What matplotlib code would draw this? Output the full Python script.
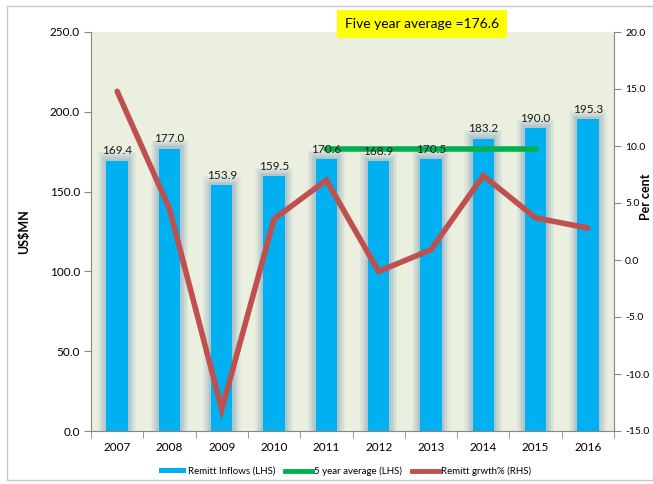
import matplotlib
matplotlib.use("Agg")
import matplotlib.pyplot as plt
from matplotlib.patches import Rectangle
from matplotlib.lines import Line2D
from matplotlib.patches import Patch

plt.rcParams['font.family'] = ['Lato', 'DejaVu Sans']

years = ['2007', '2008', '2009', '2010', '2011', '2012', '2013', '2014', '2015', '2016']
inflows = [169.4, 177.0, 153.9, 159.5, 170.6, 168.9, 170.5, 183.2, 190.0, 195.3]
growth = [14.8, 4.5, -13.1, 3.6, 7.0, -1.0, 0.9, 7.4, 3.7, 2.8]
avg_years = ['2011', '2012', '2013', '2014', '2015']
avg_value = 176.6
left_ticks = [0, 50, 100, 150, 200, 250]
right_ticks = [-15, -10, -5, 0, 5, 10, 15, 20]

BAR = '#00B0F0'
RED = '#C0504D'
GREEN = '#00B050'
BG = '#EBEFDF'
AXC = '#868686'

fig = plt.figure(figsize=(6.53, 4.84), dpi=100)
fig.patch.set_facecolor('white')
fig.patches.append(Rectangle((7/653, 1-480/484), 646/653, 474/484, transform=fig.transFigure,
                             fill=False, edgecolor='#C8C8C8', lw=1.0))

ax = fig.add_axes([91/653, 1-431/484, 523/653, 399/484])
ax.set_facecolor(BG)
x = list(range(len(years)))

# glow behind bars
for w, a in [(0.72, 0.12), (0.66, 0.16), (0.60, 0.22), (0.54, 0.30), (0.48, 0.40)]:
    ax.bar(x, [v + (w - 0.41) * 18 for v in inflows], width=w, color='#9DB7C6', alpha=a,
           zorder=1, linewidth=0)
ax.bar(x, inflows, width=0.41, color=BAR, zorder=2, linewidth=0)
for xi, v in zip(x, inflows):
    ax.annotate(f'{v:.1f}', (xi, v), xytext=(0, 3), textcoords='offset points',
                ha='center', va='bottom', fontsize=8.5, color='#1a1a1a', zorder=6)

ax.set_xlim(-0.5, len(years) - 0.5)
ax.set_ylim(0, 250)
ax.set_yticks(left_ticks)
ax.set_yticklabels([f'{t:.1f}' for t in left_ticks], fontsize=8.5)
ax.set_xticks(x)
ax.set_xticklabels(years, fontsize=8.5)
ax.set_xticks([i + 0.5 for i in range(-1, len(years))], minor=True)
ax.tick_params(axis='x', which='major', length=0, pad=8)
ax.tick_params(axis='x', which='minor', length=5, color=AXC, direction='out')
ax.tick_params(axis='y', length=5, color=AXC, direction='out', pad=3)
for s in ['top', 'right']:
    ax.spines[s].set_visible(False)
for s in ['left', 'bottom']:
    ax.spines[s].set_color(AXC)
ax.set_ylabel('US$MN', fontsize=9, fontweight='bold', labelpad=14)

ia = [years.index(y) for y in avg_years]
ax.plot(ia, [avg_value] * len(ia), color=GREEN, lw=4, solid_capstyle='round', zorder=5)

ax2 = ax.twinx()
ax2.plot(x, growth, color=RED, lw=4, solid_capstyle='round', solid_joinstyle='miter', zorder=5)
ax2.set_ylim(-15, 20)
ax2.set_yticks(right_ticks)
ax2.set_yticklabels([f'{t:.1f}' for t in right_ticks], fontsize=7.5)
ax2.tick_params(axis='y', length=5, color=AXC, direction='out', pad=3)
for s in ['top', 'left', 'bottom']:
    ax2.spines[s].set_visible(False)
ax2.spines['right'].set_color(AXC)
fig.text(646/653, 1-197/484, 'Per cent', rotation=90, fontsize=9, fontweight='bold',
         ha='center', va='center')

fig.text(422/653, 1-24/484, 'Five year average =176.6', fontsize=10, ha='center', va='center',
         bbox=dict(boxstyle='square,pad=0.55', facecolor='#FFFF00', edgecolor='none'))

handles = [Patch(facecolor=BAR, edgecolor='none'),
           Line2D([0], [0], color=GREEN, lw=3.5),
           Line2D([0], [0], color=RED, lw=3.5)]
labels = ['Remitt Inflows (LHS)', '5 year average (LHS)', 'Remitt grwth% (RHS)']
fig.legend(handles, labels, loc='center', bbox_to_anchor=(345/653, 1-471/484), ncol=3,
           frameon=False, fontsize=7, handlelength=2.8, handleheight=0.5, columnspacing=1.0,
           handletextpad=0.2)

fig.savefig('out.png', dpi=100)
